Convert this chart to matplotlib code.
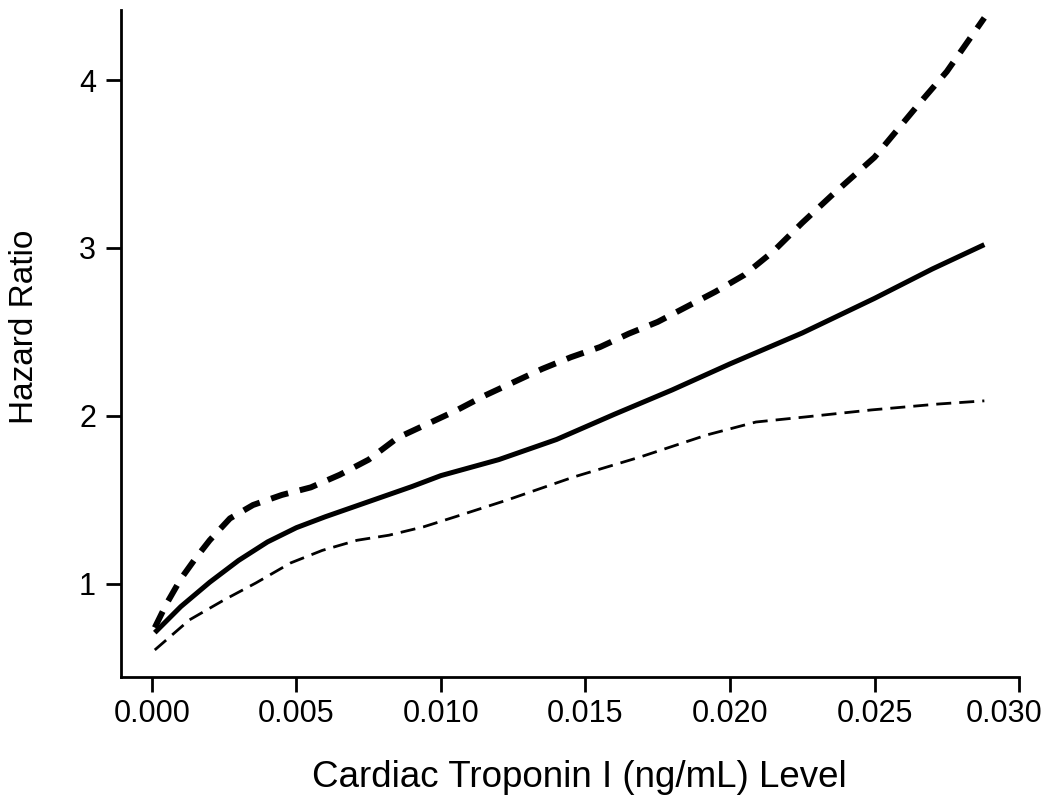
import matplotlib
matplotlib.use("Agg")
import matplotlib.pyplot as plt

plt.rcParams['font.family'] = ['Liberation Sans', 'DejaVu Sans']

# Estimated hazard ratio (solid)
est_x = [0.0001, 0.001, 0.002, 0.003, 0.004, 0.005, 0.006, 0.007, 0.008, 0.009,
         0.010, 0.012, 0.014, 0.016, 0.018, 0.020, 0.0225, 0.025, 0.027, 0.0288]
est_y = [0.71, 0.865, 1.01, 1.14, 1.25, 1.335, 1.40, 1.46, 1.52, 1.58,
         1.645, 1.74, 1.86, 2.01, 2.155, 2.31, 2.494, 2.70, 2.875, 3.02]

# Upper confidence bound (thick dashed)
up_x = [0.0001, 0.0005, 0.001, 0.0015, 0.002, 0.0027, 0.0035, 0.0045, 0.0055, 0.0065,
        0.0075, 0.0085, 0.0095, 0.0105, 0.0115, 0.0125, 0.0135, 0.0145, 0.0155, 0.0165,
        0.0175, 0.0185, 0.0195, 0.0205, 0.0215, 0.0225, 0.0235, 0.025, 0.0265, 0.0275, 0.0288]
up_y = [0.74, 0.88, 1.03, 1.15, 1.26, 1.39, 1.47, 1.53, 1.575, 1.65,
        1.74, 1.87, 1.95, 2.03, 2.12, 2.20, 2.28, 2.35, 2.41, 2.49,
        2.56, 2.65, 2.74, 2.84, 2.98, 3.15, 3.31, 3.54, 3.85, 4.05, 4.37]

# Lower confidence bound (thin dashed)
lo_x = [0.0001, 0.0013, 0.0025, 0.0036, 0.0048, 0.0059, 0.0071, 0.0082, 0.0094, 0.0105,
        0.0123, 0.0146, 0.0169, 0.0192, 0.0209, 0.0226, 0.0249, 0.0272, 0.0288]
lo_y = [0.607, 0.786, 0.905, 1.006, 1.125, 1.20, 1.26, 1.29, 1.34, 1.40,
        1.50, 1.637, 1.756, 1.887, 1.964, 1.994, 2.036, 2.071, 2.09]

x_ticks = [0.000, 0.005, 0.010, 0.015, 0.020, 0.025, 0.030]
x_ticklabels = ["0.000", "0.005", "0.010", "0.015", "0.020", "0.025", "0.030"]
y_ticks = [1, 2, 3, 4]
y_ticklabels = ["1", "2", "3", "4"]

fig = plt.figure(figsize=(10.5, 8.1), dpi=100)
ax = fig.add_axes([0.1152, 0.1642, 0.8553, 0.8235])

ax.plot(up_x, up_y, color='black', lw=4.3, linestyle=(0, (3.0, 2.0)),
        solid_capstyle='butt', dash_capstyle='butt')
ax.plot(est_x, est_y, color='black', lw=3.6, solid_capstyle='butt')
ax.plot(lo_x, lo_y, color='black', lw=2.0, linestyle=(0, (5.4, 2.9)),
        dash_capstyle='butt')

ax.set_xlim(-0.00107, 0.030)
ax.set_ylim(0.446, 4.417)

ax.set_xticks(x_ticks)
# last label is drawn separately, nudged left so it stays inside the figure
ax.set_xticklabels(x_ticklabels[:-1] + [""])
ax.set_yticks(y_ticks)
ax.set_yticklabels(y_ticklabels)

for s in ['top', 'right']:
    ax.spines[s].set_visible(False)
for s in ['left', 'bottom']:
    ax.spines[s].set_linewidth(2.0)

ax.tick_params(axis='both', direction='out', length=11, width=2.0,
               labelsize=22, colors='black')
ax.tick_params(axis='x', pad=5)
ax.tick_params(axis='y', pad=7)

ax.annotate(x_ticklabels[-1], xy=(x_ticks[-1], 0), xycoords=('data', 'axes fraction'),
            xytext=(-11, -16), textcoords='offset points',
            ha='center', va='top', fontsize=22, annotation_clip=False)

ax.set_xlabel("Cardiac Troponin I (ng/mL) Level", fontsize=26.5)
ax.set_ylabel("Hazard Ratio", fontsize=24)
ax.xaxis.set_label_coords(0.511, -0.1514)
ax.xaxis.label.set_va('center')
ax.yaxis.set_label_coords(-0.107, 0.525)
ax.yaxis.label.set_va('center')

fig.savefig("out.png", dpi=100)
